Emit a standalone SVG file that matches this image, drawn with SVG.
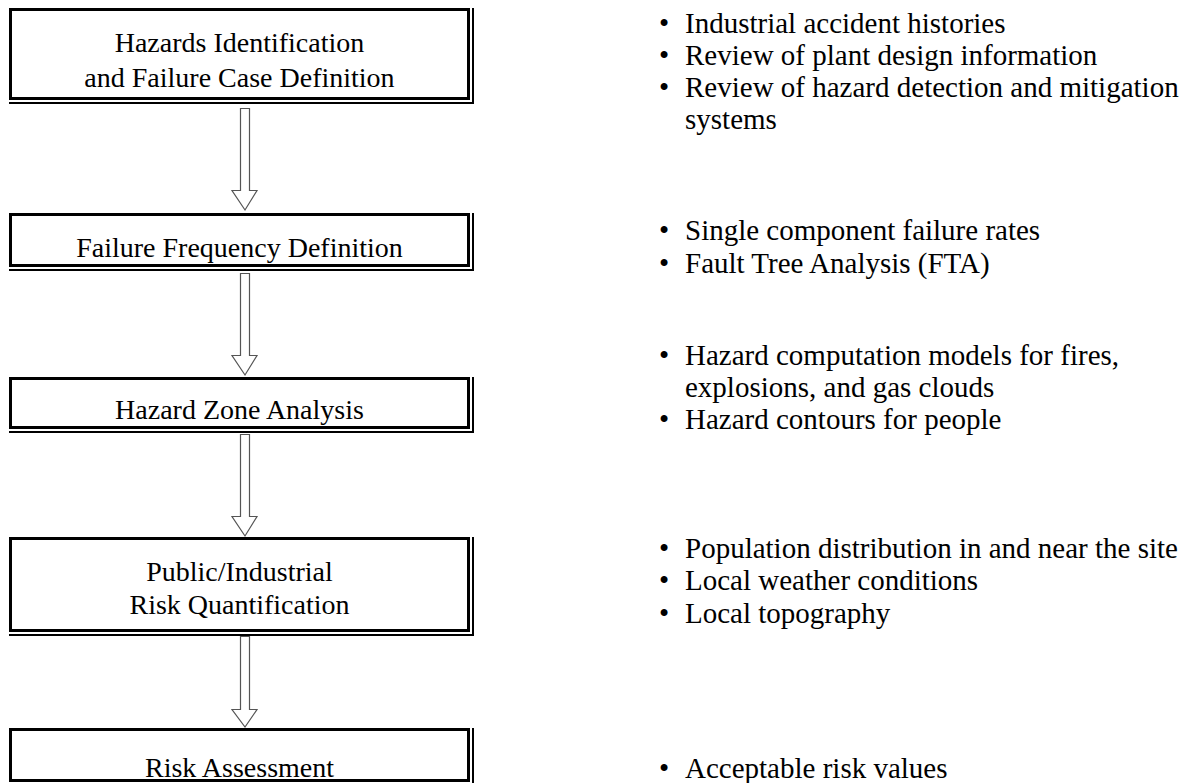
<svg xmlns="http://www.w3.org/2000/svg" width="1194" height="783" viewBox="0 0 1194 783">
<style>
.box{fill:#fff;stroke:#000;stroke-width:3}
.sh{fill:none;stroke:#000;stroke-width:2}
.bt{font-family:"Liberation Serif","Times New Roman",serif;font-size:28px;fill:#000;text-anchor:middle}
.rt{font-family:"Liberation Serif","Times New Roman",serif;font-size:29px;fill:#000}
.arr{fill:#fff;stroke:#555;stroke-width:1.2}
</style>
<rect width="1194" height="783" fill="#fff"/>
<g id="connectors">
<path class="arr" d="M240.5 108.5 H249.5 V190.5 H257 L245 210 L232 190.5 H240.5 Z"/>
<path class="arr" d="M240.5 273.5 H249.5 V355.5 H257 L245 375 L232 355.5 H240.5 Z"/>
<path class="arr" d="M240.5 434.5 H249.5 V516.5 H257 L245 536 L232 516.5 H240.5 Z"/>
<path class="arr" d="M240.5 636.5 H249.5 V709.5 H257 L245 727 L232 709.5 H240.5 Z"/>
</g>
<g id="n1">
<rect class="box" x="10.5" y="9.5" width="458" height="89"/>
<path class="sh" d="M9 103 H473 V8"/>
<text class="bt" x="239.5" y="52">Hazards Identification</text>
<text class="bt" x="239.5" y="87">and Failure Case Definition</text>
</g>
<g id="n2">
<rect class="box" x="10.5" y="214.5" width="458" height="51"/>
<path class="sh" d="M9 270 H473 V213"/>
<text class="bt" x="239.5" y="257">Failure Frequency Definition</text>
</g>
<g id="n3">
<rect class="box" x="10.5" y="378.5" width="458" height="49"/>
<path class="sh" d="M9 432 H473 V377"/>
<text class="bt" x="239.5" y="419">Hazard Zone Analysis</text>
</g>
<g id="n4">
<rect class="box" x="10.5" y="538.5" width="458" height="92"/>
<path class="sh" d="M9 635 H473 V537"/>
<text class="bt" x="239.5" y="581">Public/Industrial</text>
<text class="bt" x="239.5" y="614">Risk Quantification</text>
</g>
<g id="n5">
<rect class="box" x="10.5" y="729.5" width="458" height="51"/>
<path class="sh" d="M9 784 H473 V728"/>
<text class="bt" x="239.5" y="777">Risk Assessment</text>
</g>
<g id="notes">
<g class="rt">
<text x="659" y="33">•</text><text x="685" y="33">Industrial accident histories</text>
<text x="659" y="65">•</text><text x="685" y="65">Review of plant design information</text>
<text x="659" y="97">•</text><text x="685" y="97">Review of hazard detection and mitigation</text>
<text x="685" y="129">systems</text>
<text x="659" y="240">•</text><text x="685" y="240">Single component failure rates</text>
<text x="659" y="273">•</text><text x="685" y="273">Fault Tree Analysis (FTA)</text>
<text x="659" y="365">•</text><text x="685" y="365">Hazard computation models for fires,</text>
<text x="685" y="397">explosions, and gas clouds</text>
<text x="659" y="429">•</text><text x="685" y="429">Hazard contours for people</text>
<text x="659" y="558">•</text><text x="685" y="558">Population distribution in and near the site</text>
<text x="659" y="590">•</text><text x="685" y="590">Local weather conditions</text>
<text x="659" y="623">•</text><text x="685" y="623">Local topography</text>
<text x="659" y="778">•</text><text x="685" y="778">Acceptable risk values</text>
</g>
</g>
</svg>
